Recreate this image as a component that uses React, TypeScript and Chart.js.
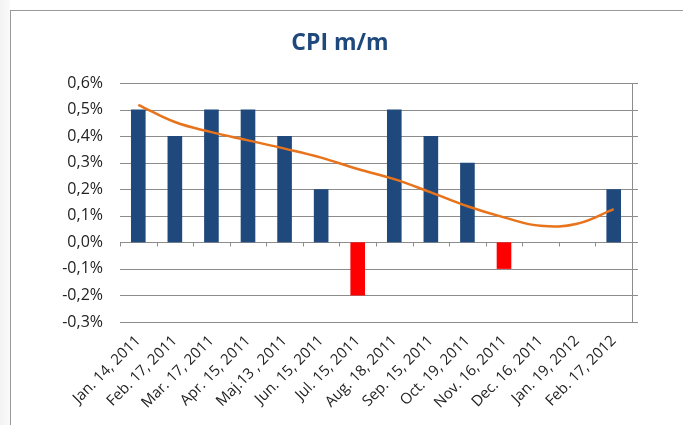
import React, { useEffect, useRef } from "react";
import { Chart, registerables } from "chart.js";

Chart.register(...registerables);

const categories = [
  "Jan. 14, 2011",
  "Feb. 17, 2011",
  "Mar. 17, 2011",
  "Apr. 15, 2011",
  "Maj.13 , 2011",
  "Jun. 15, 2011",
  "Jul. 15, 2011",
  "Aug. 18, 2011",
  "Sep. 15, 2011",
  "Oct. 19, 2011",
  "Nov. 16, 2011",
  "Dec. 16, 2011",
  "Jan. 19, 2012",
  "Feb. 17, 2012",
];

const cpiValues = [0.5, 0.4, 0.5, 0.5, 0.4, 0.2, -0.2, 0.5, 0.4, 0.3, -0.1, 0, 0, 0.2];

const trendValues = [0.518, 0.453, 0.415, 0.384, 0.353, 0.319, 0.276, 0.238, 0.188, 0.136, 0.094, 0.062, 0.07, 0.125];

const yMin = -0.3;
const yMax = 0.6;
const yStep = 0.1;

const titleText = "CPI m/m";

const BLUE = "#1F497D";
const RED = "#FF0000";
const ORANGE = "#E8731A";
const GRID = "#8c8c8c";

export default function App() {
  const ref = useRef<HTMLCanvasElement | null>(null);

  useEffect(() => {
    document.body.style.margin = "0";
    const canvas = ref.current;
    if (!canvas) return;

    const framePlugin = {
      id: "framePlugin",
      beforeDatasetsDraw(chart: any) {
        const { ctx, chartArea, scales } = chart;
        const y = scales.y;
        ctx.save();
        ctx.strokeStyle = GRID;
        ctx.lineWidth = 1;
        for (let v = yMin; v <= yMax + 1e-9; v += yStep) {
          const py = Math.round(y.getPixelForValue(v)) + 0.5;
          ctx.beginPath();
          ctx.moveTo(chartArea.left, py);
          ctx.lineTo(chartArea.right + 6, py);
          ctx.stroke();
        }
        const rx = Math.round(chartArea.right) + 0.5;
        ctx.beginPath();
        ctx.moveTo(rx, chartArea.top);
        ctx.lineTo(rx, chartArea.bottom);
        ctx.stroke();
        const zy = Math.round(y.getPixelForValue(0)) + 0.5;
        const n = categories.length;
        const w = (chartArea.right - chartArea.left) / n;
        for (let i = 0; i <= n; i++) {
          const px = Math.round(chartArea.left + i * w) + 0.5;
          ctx.beginPath();
          ctx.moveTo(px, zy);
          ctx.lineTo(px, zy + 4);
          ctx.stroke();
        }
        ctx.restore();
      },
      afterDraw(chart: any) {
        const { ctx } = chart;
        ctx.save();
        ctx.fillStyle = BLUE;
        ctx.font = "bold 23px 'Open Sans'";
        ctx.textAlign = "center";
        ctx.textBaseline = "middle";
        ctx.fillText(titleText, 340, 43);
        ctx.restore();
      },
    };

    const chart = new Chart(canvas, {
      data: {
        labels: categories,
        datasets: [
          {
            type: "line",
            data: trendValues,
            borderColor: ORANGE,
            borderWidth: 2.5,
            pointRadius: 0,
            tension: 0.4,
            fill: false,
            order: 0,
          } as any,
          {
            type: "bar",
            data: cpiValues,
            backgroundColor: cpiValues.map((v) => (v < 0 ? RED : BLUE)),
            borderWidth: 0,
            categoryPercentage: 1,
            barPercentage: 0.4,
            order: 1,
          } as any,
        ],
      },
      options: {
        animation: false,
        responsive: false,
        maintainAspectRatio: false,
        layout: { padding: { top: 83, right: 51, bottom: 0, left: 0 } },
        plugins: {
          legend: { display: false },
          title: { display: false },
          tooltip: { enabled: false },
        },
        scales: {
          x: {
            grid: { display: false, drawTicks: false },
            border: { display: false },
            ticks: {
              autoSkip: false,
              maxRotation: 45,
              minRotation: 45,
              padding: 10,
              color: "#222",
              font: { family: "'Open Sans'", size: 15 },
            },
            afterFit(scale: any) {
              scale.height = 103;
            },
          },
          y: {
            min: yMin,
            max: yMax,
            grid: { display: false, drawTicks: false },
            border: { display: false },
            ticks: {
              stepSize: yStep,
              padding: 17,
              color: "#222",
              font: { family: "'Open Sans'", size: 16 },
              callback: (v: any) => (Math.round(Number(v) * 10) / 10).toFixed(1).replace(".", ",") + "%",
            },
            afterFit(scale: any) {
              scale.width = 120;
            },
          },
        },
      },
      plugins: [framePlugin],
    });

    return () => chart.destroy();
  }, []);

  return (
    <div style={{ position: "relative", width: 683, height: 425, background: "#fff" }}>
      <div
        style={{
          position: "absolute",
          left: 0,
          top: 0,
          width: 10,
          height: 425,
          background: "linear-gradient(to right, #f3f3f3, #fafafa)",
        }}
      />
      <div
        style={{
          position: "absolute",
          left: 10,
          top: 10,
          width: 673,
          height: 415,
          borderLeft: "1px solid #9a9a9a",
          borderTop: "1px solid #9a9a9a",
        }}
      />
      <canvas ref={ref} width={683} height={425} style={{ position: "absolute", left: 0, top: 0 }} />
    </div>
  );
}
